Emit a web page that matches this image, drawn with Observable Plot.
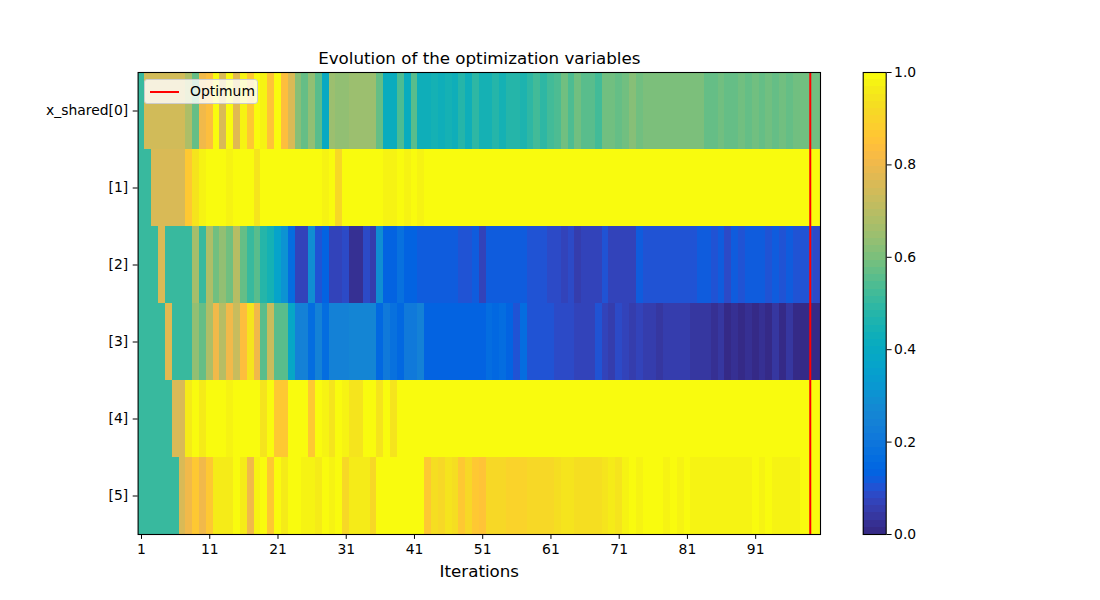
<!DOCTYPE html>
<html>
<head>
<meta charset="utf-8">
<script src="https://cdn.jsdelivr.net/npm/d3@7"></script>
<script src="https://cdn.jsdelivr.net/npm/@observablehq/plot@0.6"></script>
<style>
  body { margin: 0; background: white; }
  #fig { position: relative; width: 1100px; height: 600px; font-family: "DejaVu Sans", sans-serif; }
  #main { position: absolute; left: 0; top: 0; }
  #cbar { position: absolute; left: 840px; top: 0; }
  #legend {
    position: absolute; left: 144px; top: 79px; width: 114px; height: 25px;
    box-sizing: border-box; background: rgba(255,255,255,0.8);
    border: 1px solid #cccccc; border-radius: 3px; z-index: 2;
  }
  #legend .swatch { position: absolute; left: 5px; top: 10.5px; width: 29px; height: 2px; background: red; }
  #legend .label { position: absolute; left: 45px; top: 0; line-height: 23px; font-size: 13.9px; color: black; }
</style>
</head>
<body>
<div id="fig">
  <div id="main"></div>
  <div id="cbar"></div>
  <div id="legend"><div class="swatch"></div><div class="label">Optimum</div></div>
</div>
<script>
// Design variables shown as heatmap rows (top to bottom)
const variables = ["x_shared[0]", "[1]", "[2]", "[3]", "[4]", "[5]"];

// Normalised value of each variable at iterations 1..100
const xShared0 = [
  0.51, 0.745, 0.745, 0.745, 0.745, 0.745, 0.745, 0.68, 0.57, 0.80,
  0.83, 1.0, 0.76, 1.0, 0.77, 0.98, 0.86, 1.0, 0.97, 0.85,
  1.0, 0.83, 0.76, 0.62, 0.57, 0.63, 0.55, 0.40, 0.65, 0.64,
  0.64, 0.65, 0.65, 0.65, 0.65, 0.57, 0.42, 0.42, 0.54, 0.41,
  0.56, 0.43, 0.43, 0.44, 0.43, 0.44, 0.43, 0.47, 0.43, 0.49,
  0.45, 0.45, 0.48, 0.44, 0.48, 0.47, 0.46, 0.49, 0.53, 0.49,
  0.52, 0.54, 0.58, 0.54, 0.58, 0.56, 0.56, 0.53, 0.585, 0.58,
  0.57, 0.585, 0.61, 0.585, 0.595, 0.595, 0.595, 0.595, 0.595, 0.595,
  0.595, 0.595, 0.595, 0.575, 0.575, 0.59, 0.57, 0.57, 0.585, 0.57,
  0.585, 0.57, 0.59, 0.575, 0.585, 0.57, 0.59, 0.59, 0.59, 0.59
];
const xShared1 = [
  0.51, 0.51, 0.76, 0.76, 0.76, 0.76, 0.76, 0.86, 0.94, 0.97,
  1.0, 1.0, 1.0, 0.98, 1.0, 1.0, 1.0, 0.94, 1.0, 1.0,
  1.0, 1.0, 1.0, 1.0, 1.0, 1.0, 1.0, 0.97, 1.0, 0.91,
  1.0, 1.0, 1.0, 1.0, 1.0, 1.0, 0.975, 0.975, 1.0, 0.975,
  1.0, 0.975, 1.0, 1.0, 1.0, 1.0, 1.0, 1.0, 1.0, 1.0,
  1.0, 1.0, 1.0, 1.0, 1.0, 1.0, 1.0, 1.0, 1.0, 1.0,
  1.0, 1.0, 1.0, 1.0, 1.0, 1.0, 1.0, 1.0, 1.0, 1.0,
  1.0, 1.0, 1.0, 1.0, 1.0, 1.0, 1.0, 1.0, 1.0, 1.0,
  1.0, 1.0, 1.0, 1.0, 1.0, 1.0, 1.0, 1.0, 1.0, 1.0,
  1.0, 1.0, 1.0, 1.0, 1.0, 1.0, 1.0, 1.0, 1.0, 1.0
];
const xShared2 = [
  0.51, 0.51, 0.51, 0.76, 0.51, 0.51, 0.51, 0.51, 0.66, 0.51,
  0.68, 0.58, 0.64, 0.58, 0.70, 0.57, 0.50, 0.56, 0.48, 0.44,
  0.37, 0.31, 0.16, 0.065, 0.065, 0.29, 0.105, 0.14, 0.065, 0.065,
  0.08, 0.02, 0.03, 0.08, 0.06, 0.29, 0.13, 0.13, 0.18, 0.14,
  0.13, 0.12, 0.12, 0.11, 0.11, 0.11, 0.11, 0.095, 0.095, 0.11,
  0.075, 0.115, 0.115, 0.115, 0.115, 0.115, 0.115, 0.095, 0.095, 0.095,
  0.08, 0.08, 0.07, 0.08, 0.06, 0.07, 0.07, 0.075, 0.10, 0.07,
  0.075, 0.07, 0.075, 0.11, 0.095, 0.095, 0.095, 0.095, 0.095, 0.095,
  0.095, 0.095, 0.11, 0.11, 0.095, 0.11, 0.08, 0.11, 0.095, 0.11,
  0.11, 0.11, 0.095, 0.11, 0.095, 0.11, 0.095, 0.095, 0.095, 0.08
];
const xShared3 = [
  0.51, 0.51, 0.51, 0.51, 0.77, 0.51, 0.51, 0.51, 0.63, 0.565,
  0.68, 0.81, 0.69, 0.81, 0.73, 0.84, 0.94, 0.81, 0.55, 0.72,
  0.555, 0.555, 0.39, 0.24, 0.24, 0.17, 0.24, 0.17, 0.24, 0.24,
  0.24, 0.26, 0.26, 0.26, 0.26, 0.15, 0.21, 0.18, 0.15, 0.21,
  0.21, 0.24, 0.14, 0.14, 0.14, 0.14, 0.14, 0.13, 0.14, 0.13,
  0.14, 0.17, 0.15, 0.16, 0.14, 0.10, 0.16, 0.10, 0.10, 0.10,
  0.10, 0.08, 0.08, 0.08, 0.065, 0.075, 0.075, 0.10, 0.075, 0.06,
  0.08, 0.075, 0.05, 0.075, 0.05, 0.06, 0.045, 0.06, 0.06, 0.05,
  0.06, 0.045, 0.045, 0.04, 0.02, 0.035, 0.015, 0.03, 0.01, 0.025,
  0.01, 0.025, 0.015, 0.035, 0.012, 0.035, 0.012, 0.012, 0.012, 0.012
];
const xShared4 = [
  0.51, 0.51, 0.51, 0.51, 0.51, 0.76, 0.76, 0.96, 1.0, 0.96,
  1.0, 1.0, 1.0, 0.98, 1.0, 1.0, 1.0, 0.99, 0.95, 1.0,
  0.87, 0.87, 1.0, 1.0, 1.0, 0.86, 1.0, 0.98, 0.94, 1.0,
  0.97, 0.95, 0.95, 1.0, 1.0, 0.95, 1.0, 0.95, 1.0, 1.0,
  1.0, 1.0, 1.0, 1.0, 1.0, 1.0, 1.0, 1.0, 1.0, 1.0,
  1.0, 1.0, 1.0, 1.0, 1.0, 1.0, 1.0, 1.0, 1.0, 1.0,
  1.0, 1.0, 1.0, 1.0, 1.0, 1.0, 1.0, 1.0, 1.0, 1.0,
  1.0, 1.0, 1.0, 1.0, 1.0, 1.0, 1.0, 1.0, 1.0, 1.0,
  1.0, 1.0, 1.0, 1.0, 1.0, 1.0, 1.0, 1.0, 1.0, 1.0,
  1.0, 1.0, 1.0, 1.0, 1.0, 1.0, 1.0, 1.0, 1.0, 1.0
];
const xShared5 = [
  0.51, 0.51, 0.51, 0.51, 0.51, 0.51, 0.76, 0.81, 0.86, 0.81,
  0.87, 0.96, 0.96, 0.96, 1.0, 0.96, 0.81, 0.97, 1.0, 0.87,
  1.0, 0.96, 1.0, 1.0, 0.97, 0.98, 0.96, 1.0, 0.97, 1.0,
  0.92, 0.96, 0.96, 0.96, 0.92, 1.0, 1.0, 1.0, 1.0, 1.0,
  1.0, 1.0, 0.87, 0.93, 0.91, 0.95, 0.93, 0.86, 0.92, 0.87,
  0.85, 0.92, 0.92, 0.92, 0.90, 0.90, 0.90, 0.91, 0.91, 0.91,
  0.91, 0.93, 0.94, 0.94, 0.935, 0.935, 0.935, 0.935, 0.95, 0.96,
  0.945, 0.97, 1.0, 0.97, 0.99, 0.985, 1.0, 0.98, 1.0, 0.98,
  1.0, 0.98, 0.98, 0.98, 0.98, 0.98, 0.98, 0.98, 0.98, 0.98,
  1.0, 0.98, 1.0, 0.98, 0.98, 0.98, 0.98, 1.0, 1.0, 1.0
];

// Iteration at which the optimum was found
const optimumIteration = 99;

// Axis tick values
const iterationTicks = [1, 11, 21, 31, 41, 51, 61, 71, 81, 91];
const colorTicks = [0.0, 0.2, 0.4, 0.6, 0.8, 1.0];

// Parula colour map, 64 discrete entries
const parula = [
  [0.2081,0.1663,0.5292],[0.2116,0.1898,0.5777],[0.2123,0.2138,0.6270],[0.2081,0.2386,0.6771],
  [0.1959,0.2645,0.7279],[0.1707,0.2919,0.7792],[0.1253,0.3242,0.8303],[0.0591,0.3598,0.8683],
  [0.0117,0.3875,0.8820],[0.0060,0.4086,0.8828],[0.0165,0.4266,0.8786],[0.0329,0.4430,0.8720],
  [0.0498,0.4586,0.8641],[0.0629,0.4737,0.8554],[0.0723,0.4887,0.8467],[0.0779,0.5040,0.8384],
  [0.0793,0.5200,0.8312],[0.0749,0.5375,0.8263],[0.0641,0.5570,0.8240],[0.0488,0.5772,0.8228],
  [0.0343,0.5966,0.8199],[0.0265,0.6137,0.8135],[0.0239,0.6287,0.8038],[0.0231,0.6418,0.7913],
  [0.0228,0.6535,0.7768],[0.0267,0.6642,0.7607],[0.0384,0.6743,0.7436],[0.0590,0.6838,0.7254],
  [0.0843,0.6928,0.7062],[0.1133,0.7015,0.6859],[0.1453,0.7098,0.6646],[0.1801,0.7177,0.6424],
  [0.2178,0.7250,0.6193],[0.2586,0.7317,0.5954],[0.3022,0.7376,0.5712],[0.3482,0.7424,0.5473],
  [0.3953,0.7459,0.5244],[0.4420,0.7481,0.5033],[0.4871,0.7491,0.4840],[0.5300,0.7491,0.4661],
  [0.5709,0.7485,0.4494],[0.6099,0.7473,0.4337],[0.6473,0.7456,0.4188],[0.6834,0.7435,0.4044],
  [0.7184,0.7411,0.3905],[0.7525,0.7384,0.3768],[0.7858,0.7356,0.3633],[0.8185,0.7327,0.3498],
  [0.8507,0.7299,0.3360],[0.8824,0.7274,0.3217],[0.9139,0.7258,0.3063],[0.9450,0.7261,0.2886],
  [0.9739,0.7314,0.2666],[0.9938,0.7455,0.2403],[0.9990,0.7653,0.2164],[0.9955,0.7861,0.1967],
  [0.9880,0.8066,0.1794],[0.9789,0.8271,0.1633],[0.9697,0.8481,0.1475],[0.9626,0.8705,0.1309],
  [0.9589,0.8949,0.1132],[0.9598,0.9218,0.0948],[0.9661,0.9514,0.0755],[0.9763,0.9831,0.0538]
].map(([r, g, b]) => d3.rgb(r * 255, g * 255, b * 255).formatHex());

// Long-format table of heatmap cells
const series = [xShared0, xShared1, xShared2, xShared3, xShared4, xShared5];
const cells = series.flatMap((values, row) =>
  values.map((value, i) => ({iteration: i + 1, variable: variables[row], value}))
);

// Discrete colour scale: 64 equal bins over [0, 1]
const colorScale = {
  type: "threshold",
  domain: parula.slice(1).map((_, k) => (k + 1) / parula.length),
  range: parula
};

const fontStyle = {
  fontFamily: "DejaVu Sans",
  fontSize: "13.9px",
  color: "black",
  background: "transparent",
  overflow: "visible"
};

const main = Plot.plot({
  width: 840,
  height: 600,
  marginLeft: 137.6,
  marginRight: 20,
  marginTop: 72,
  marginBottom: 66,
  style: fontStyle,
  x: {domain: [0.5, 100.5], ticks: iterationTicks, tickFormat: d => String(d), tickSize: 4.9, tickPadding: 5, label: null},
  y: {domain: variables, padding: 0, round: false, tickSize: 4.9, tickPadding: 5, label: null},
  color: colorScale,
  marks: [
    Plot.barX(cells, {
      x1: d => d.iteration - 0.5,
      x2: d => d.iteration + 0.5,
      y: "variable",
      fill: "value",
      shapeRendering: "crispEdges"
    }),
    Plot.ruleX([optimumIteration], {stroke: "red", strokeWidth: 2}),
    Plot.frame({stroke: "black", strokeWidth: 1.1}),
    Plot.text(["Evolution of the optimization variables"], {frameAnchor: "top", dy: -14, lineAnchor: "middle", fontSize: 16.7}),
    Plot.text(["Iterations"], {frameAnchor: "bottom", dy: 37, lineAnchor: "middle", fontSize: 16.7})
  ]
});
document.getElementById("main").append(main);

// Vertical colour bar
const bands = parula.map((_, i) => ({lo: i / parula.length, hi: (i + 1) / parula.length}));
const cbar = Plot.plot({
  width: 100,
  height: 600,
  marginLeft: 22.7,
  marginRight: 54.3,
  marginTop: 72,
  marginBottom: 66,
  style: fontStyle,
  x: {domain: [0, 1], axis: null},
  y: {domain: [0, 1], axis: "right", ticks: colorTicks, tickFormat: d => d.toFixed(1), tickSize: 4.9, tickPadding: 3, label: null},
  color: colorScale,
  marks: [
    Plot.rect(bands, {x1: 0, x2: 1, y1: "lo", y2: "hi", fill: d => (d.lo + d.hi) / 2, shapeRendering: "crispEdges"}),
    Plot.frame({stroke: "black", strokeWidth: 1.1})
  ]
});
document.getElementById("cbar").append(cbar);
</script>
</body>
</html>
